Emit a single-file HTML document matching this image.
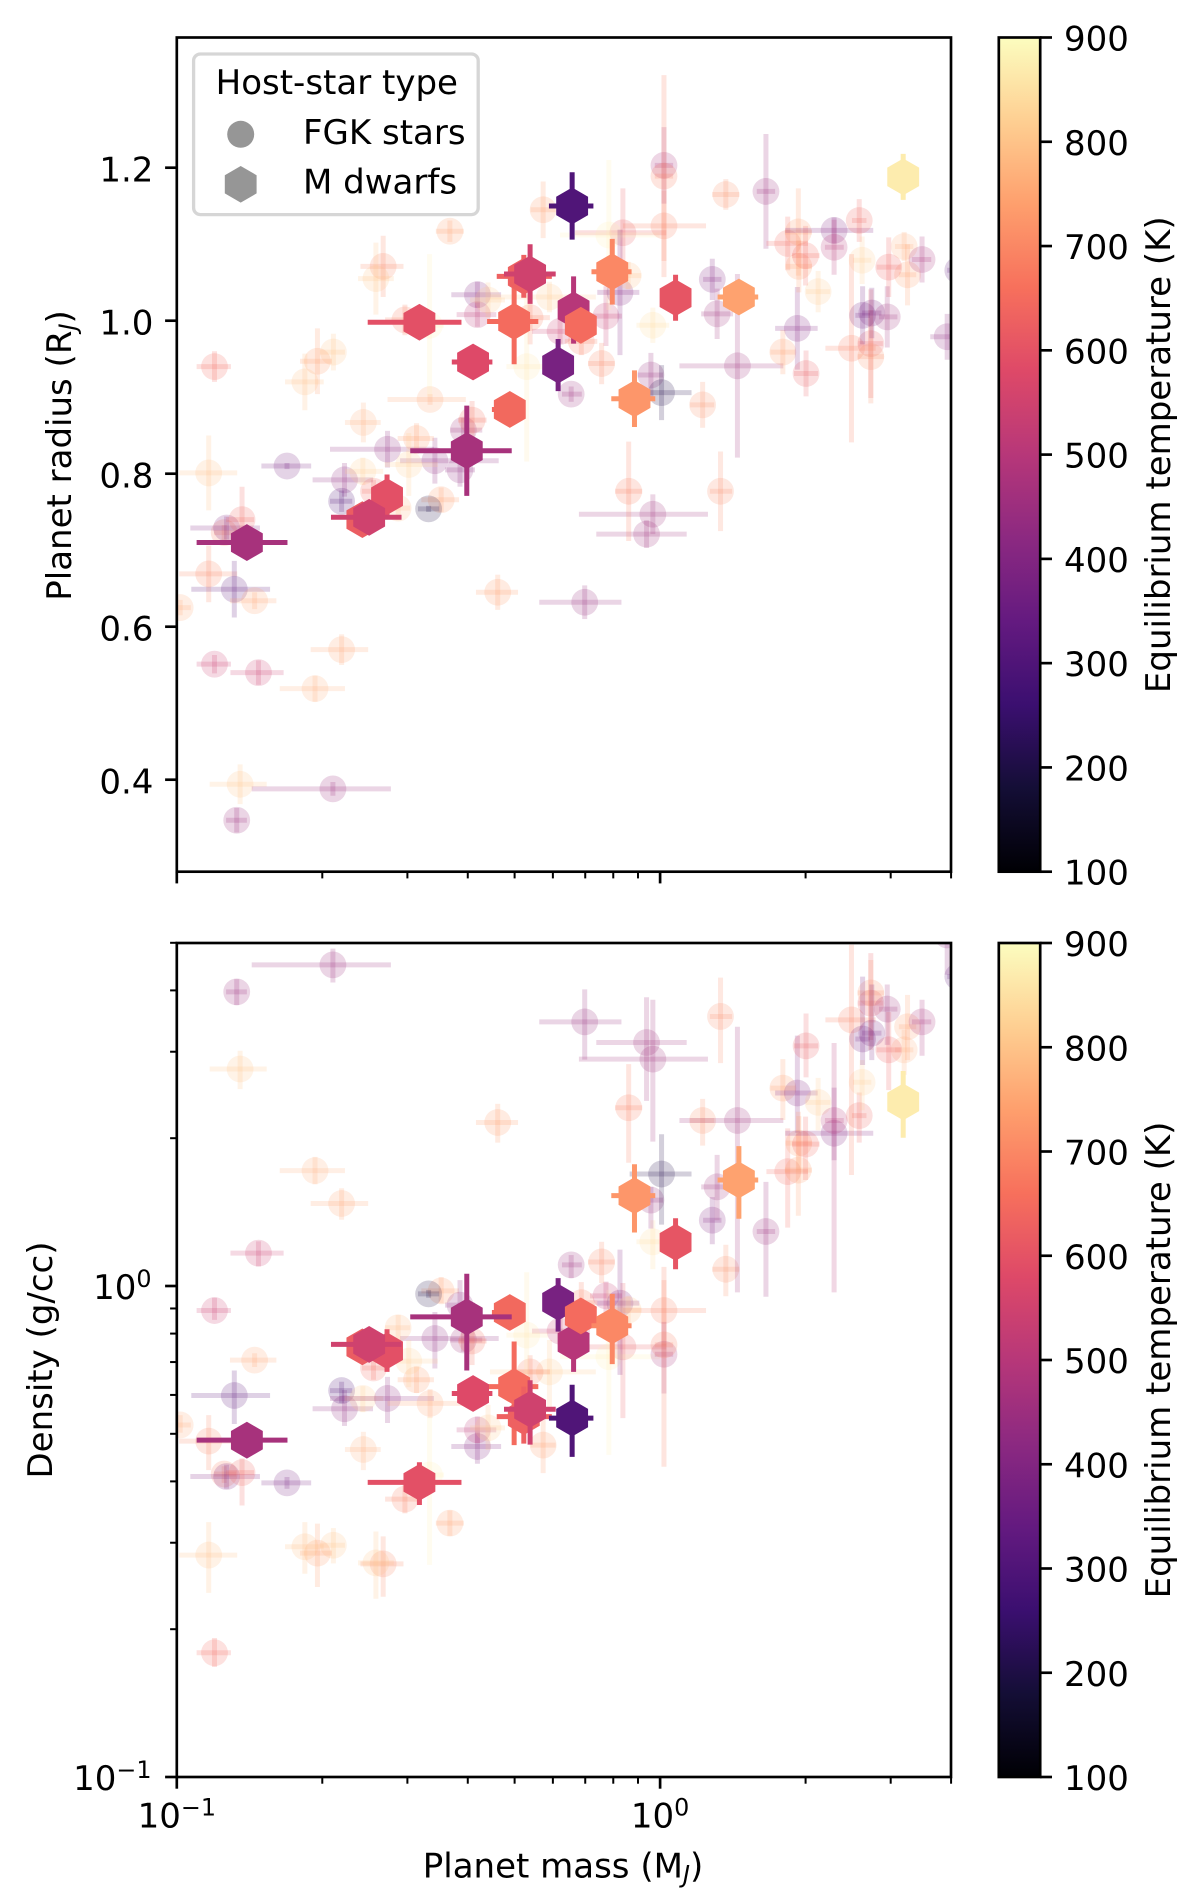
<!DOCTYPE html>
<html lang="en">
<head>
<meta charset="utf-8">
<title>Planet radius and density versus mass</title>
<style>
html,body{margin:0;padding:0;background:#fff;}
svg{display:block;}
text{font-family:"DejaVu Sans","Liberation Sans",sans-serif;font-size:34px;fill:#000;}
</style>
</head>
<body>
<svg id="figure" xmlns="http://www.w3.org/2000/svg" width="1200" height="1898" viewBox="0 0 1200 1898">
  <defs>
    <clipPath id="clip-top"><rect x="176.8" y="37.5" width="774.2" height="834.2"/></clipPath>
    <clipPath id="clip-bottom"><rect x="176.8" y="943" width="774.2" height="834"/></clipPath>
    <linearGradient id="magma-gradient" x1="0" y1="1" x2="0" y2="0"></linearGradient>
  </defs>
  <g id="top-marks" clip-path="url(#clip-top)"></g>
  <g id="bottom-marks" clip-path="url(#clip-bottom)"></g>
  <g id="axes-layer"></g>

  <rect x="176.8" y="37.5" width="774.2" height="834.2" fill="none" stroke="#000" stroke-width="2.67"/>
  <rect x="176.8" y="943" width="774.2" height="834" fill="none" stroke="#000" stroke-width="2.67"/>

  <rect x="998.8" y="37.5" width="41.4" height="834.2" fill="url(#magma-gradient)" stroke="#000" stroke-width="2.67"/>
  <rect x="998.8" y="943" width="41.4" height="834" fill="url(#magma-gradient)" stroke="#000" stroke-width="2.67"/>

  <text transform="translate(71,455.5) rotate(-90)" text-anchor="middle">Planet radius (R<tspan font-size="23.8" font-style="italic" dy="5">J</tspan><tspan dy="-5">)</tspan></text>
  <text transform="translate(52,1360) rotate(-90)" text-anchor="middle">Density (g/cc)</text>
  <text x="563" y="1877.5" text-anchor="middle">Planet mass (M<tspan font-size="23.8" font-style="italic" dy="5">J</tspan><tspan dy="-5">)</tspan></text>
  <text transform="translate(1170,454.7) rotate(-90)" text-anchor="middle">Equilibrium temperature (K)</text>
  <text transform="translate(1170,1360) rotate(-90)" text-anchor="middle">Equilibrium temperature (K)</text>

  <g>
    <rect x="193.6" y="54" width="284.6" height="160.6" rx="6.7" ry="6.7" fill="#fff" fill-opacity="0.8" stroke="#ccc" stroke-opacity="0.8" stroke-width="3.3"/>
    <text x="336.8" y="94" text-anchor="middle">Host-star type</text>
    <circle cx="240.7" cy="134.3" r="13.5" fill="#969696"/>
    <text x="303" y="144">FGK stars</text>
    <polygon points="240.7,166 256.6,175.2 256.6,193.4 240.7,202.6 224.8,193.4 224.8,175.2" fill="#969696"/>
    <text x="303" y="193.3">M dwarfs</text>
  </g>
</svg>
<script>
// ---- chart data (log10 values are dex; errors in the same units) ----
const fgkTemperature = [
760,790,700,650,540,680,400,640,330,750,
540,450,800,450,750,770,730,440,380,430,
300,820,430,730,200,430,430,460,660,730,
770,820,750,400,510,740,700,800,800,730,
790,680,880,810,680,540,680,530,700,860,
450,620,880,690,480,680,720,450,840,400,
440,210,720,460,400,460,730,400,620,810,
650,730,740,650,400,500,640,820,770,740,
630,480,430,330,680,620,720,370,380,460,
460,460,680,710,650,780,810,790,730];
const fgkLogMass = [
-.993,-.934,-.934,-.922,-.922,-.902,-.897,-.865,-.881,-.839,
-.831,-.876,-.869,-.677,-.659,-.714,-.336,-.156,-.772,-.653,
-.659,-.615,-.564,-.453,-.479,-.466,-.414,-.407,-.389,-.504,
-.614,-.520,-.476,-.378,-.378,-.435,-.573,-.588,-.676,-.709,
-.735,-.528,-.477,-.229,-.269,-.207,-.163,-.112,-.121,-.276,
-.184,-.077,-.106,.008,.008,.008,.136,.219,-.015,-.083,
-.019,.003,.088,.160,.108,.118,.254,.284,.302,.327,
.264,.286,.287,.301,.360,.360,.412,.418,.505,.512,
.473,.542,.594,.616,.396,.436,.436,.419,.438,.470,
-.015,-.028,-.065,.125,-.593,-.542,-.356,-.066,-.242];
const fgkMassErrLow = [
.031,.061,.061,.037,.037,.021,.075,.033,.089,.051,
.058,.022,.063,.168,.064,.073,.045,.094,.053,.066,
.024,.037,.119,.041,.022,.072,.031,.027,.029,.039,
.038,.050,.088,.054,.043,.029,.047,.037,.028,.036,
.041,.041,.030,.123,.041,.058,.034,.033,.028,.042,
.019,.099,.101,.085,.019,.019,.028,.019,.034,.047,
.027,.066,.026,.120,.019,.033,.026,.046,.025,.025,
.044,.028,.027,.028,.101,.019,.015,.019,.019,.018,
.025,.021,.035,.022,.054,.026,.027,.015,.020,.017,
.153,.104,.028,.022,.024,.027,.037,.027,.026];
const fgkMassErrHigh = [
.022,.059,.059,.034,.034,.025,.069,.025,.074,.045,
.052,.021,.055,.120,.055,.062,.042,.076,.050,.059,
.022,.042,.096,.037,.022,.132,.031,.039,.030,.036,
.036,.060,.074,.049,.039,.029,.042,.037,.024,.030,
.039,.027,.030,.096,.041,.062,.033,.033,.027,.044,
.022,.090,.105,.087,.019,.019,.028,.019,.034,.040,
.025,.062,.024,.095,.019,.033,.026,.042,.025,.025,
.042,.028,.027,.029,.081,.020,.015,.019,.019,.018,
.025,.019,.035,.022,.050,.025,.027,.015,.020,.021,
.114,.083,.028,.024,.024,.025,.035,.027,.026];
const fgkRadius = [
.625,.801,.669,.940,.551,.723,.729,.740,.649,.634,
.540,.347,.394,.388,.570,.519,.645,.632,.810,.792,
.764,.803,.832,.766,.754,.817,.805,.857,.870,.846,
.867,.812,.897,1.034,1.008,1.117,1.071,1.055,.959,.947,
.920,1.001,.994,1.031,1.004,.986,.973,1.006,.944,.940,
.904,1.115,1.112,1.124,1.203,1.189,1.165,1.169,.994,1.037,
.929,.906,.890,.941,1.054,1.009,.959,.990,.931,1.038,
1.101,1.116,1.071,1.085,1.118,1.096,1.131,1.079,1.097,1.060,
1.070,1.080,.979,1.066,.964,.970,.953,1.007,1.010,1.005,
.747,.721,.777,.777,.777,.755,1.027,1.059,1.145];
const fgkRadiusErr = [
.010,.049,.037,.020,.012,.010,.015,.043,.037,.011,
.016,.016,.026,.009,.020,.017,.023,.022,.004,.022,
.014,.018,.024,.016,.004,.030,.022,.016,.025,.020,
.026,.041,.007,.017,.016,.014,.040,.047,.024,.043,
.037,.020,.093,.020,.035,.016,.018,.039,.027,.124,
.010,.058,.098,.046,.050,.132,.020,.075,.023,.082,
.029,.036,.030,.120,.027,.033,.029,.054,.030,.027,
.035,.057,.034,.039,.017,.036,.028,.031,.019,.040,
.039,.030,.030,.005,.123,.071,.061,.038,.033,.040,
.026,.018,.065,.052,.015,.016,.023,.018,.037];
const fgkLogDensity = [
-.283,-.548,-.316,-.747,-.050,-.383,-.388,-.380,-.223,-.151,
.067,.599,.442,.654,.168,.235,.333,.538,-.401,-.250,
-.213,-.229,-.229,-.010,-.016,-.107,-.039,-.110,-.112,-.191,
-.333,-.153,-.239,-.327,-.293,-.483,-.566,-.564,-.528,-.544,
-.531,-.434,-.385,-.175,-.175,-.092,-.034,-.020,.049,-.100,
.043,-.124,-.144,-.050,-.139,-.120,.034,.111,.090,-.035,
.175,.228,.337,.337,.134,.202,.403,.393,.489,.374,
.233,.236,.291,.289,.311,.337,.347,.415,.481,.528,
.481,.538,.715,.630,.542,.576,.597,.503,.515,.564,
.462,.496,.363,.549,-.167,-.085,-.289,-.049,-.324];
const fgkDensityErrUp = [
.020,.067,.053,.030,.026,.016,.024,.029,.051,.014,
.024,.026,.037,.033,.031,.028,.038,.066,.012,.038,
.018,.025,.044,.028,.008,.054,.051,.020,.027,.027,
.036,.043,.029,.029,.027,.026,.056,.064,.035,.060,
.050,.029,.118,.065,.034,.027,.042,.029,.041,.128,
.020,.130,.136,.062,.066,.159,.050,.101,.044,.109,
.027,.081,.044,.191,.047,.065,.059,.117,.066,.050,
.088,.119,.055,.056,.093,.158,.047,.045,.041,.065,
.077,.045,.040,.008,.153,.102,.067,.127,.099,.050,
.121,.092,.089,.079,.024,.026,.047,.029,.057];
const fgkDensityErrDown = [
.016,.077,.059,.029,.019,.018,.025,.067,.058,.014,
.027,.027,.041,.036,.033,.028,.041,.077,.012,.035,
.025,.028,.050,.025,.008,.061,.047,.024,.049,.027,
.042,.053,.030,.035,.027,.026,.067,.073,.037,.069,
.055,.029,.183,.078,.047,.029,.035,.033,.043,.132,
.027,.145,.200,.071,.080,.248,.055,.133,.056,.146,
.058,.103,.051,.350,.049,.068,.065,.081,.064,.057,
.114,.093,.055,.073,.055,.350,.055,.057,.051,.068,
.082,.069,.081,.008,.316,.075,.116,.053,.055,.073,
.168,.119,.112,.095,.024,.025,.045,.029,.057];

const mDwarfTemperature = [595,620,550,380,500,650,700,605,745,725,870,470,650,630,550,300,595,580,645,470];
const mDwarfLogMass = [-.565,-.616,-.602,-.211,-.179,-.164,-.099,.032,.163,-.053,.503,-.855,-.302,-.282,-.269,-.182,-.498,-.387,-.311,-.400];
const mDwarfMassErrLow = [.020,.010,.079,.012,.010,.010,.043,.010,.044,.048,0,.104,.056,.056,.054,.048,.107,.044,.037,.117];
const mDwarfMassErrHigh = [.020,.010,.067,.012,.010,.010,.040,.010,.040,.043,0,.084,.050,.058,.053,.044,.087,.040,.010,.093];
const mDwarfRadius = [.770,.740,.743,.942,1.014,.994,1.064,1.030,1.031,.898,1.188,.710,.999,1.058,1.061,1.150,.998,.946,.884,.830];
const mDwarfRadiusErr = [.029,.020,.015,.034,.044,.020,.043,.030,.020,.037,.030,.015,.056,.028,.039,.044,.015,.010,.010,.059];
const mDwarfLogDensity = [-.132,-.124,-.119,-.033,-.115,-.061,-.081,.089,.216,.184,.375,-.314,-.205,-.266,-.251,-.269,-.400,-.219,-.054,-.063];
const mDwarfDensityErrUp = [.044,.030,.020,.049,.060,.030,.065,.049,.069,.064,.063,.030,.092,.061,.059,.068,.041,.020,.010,.088];
const mDwarfDensityErrDown = [.043,.030,.020,.060,.060,.030,.078,.055,.079,.075,.073,.030,.119,.055,.072,.079,.046,.020,.010,.109];

// tick values and labels
const radiusTicks = [0.4,0.6,0.8,1.0,1.2];
const radiusTickLabels = ["0.4","0.6","0.8","1.0","1.2"];
const colorbarTicks = [100,200,300,400,500,600,700,800,900];
const minorMultipliers = [2,3,4,5,6,7,8,9];
const magmaStops = ["#000004","#140e36","#3b0f70","#641a80","#8c2981","#b73779","#de4968","#f7705c","#fe9f6d","#fecf92","#fcfdbf"];

// ---- scales ----
const SVG_NS = "http://www.w3.org/2000/svg";
function xScale(logMass){ return 176.8 + (logMass + 1) * 483.3; }
function radiusScale(radius){ return 320.7 - (radius - 1) * 765; }
function densityScale(logDensity){ return 1286 - logDensity * 491; }
function tempScaleTop(t){ return 871.7 - (t - 100) / 800 * 834.2; }
function tempScaleBottom(t){ return 1777 - (t - 100) / 800 * 834; }

function hexToRgb(h){ return [parseInt(h.slice(1,3),16),parseInt(h.slice(3,5),16),parseInt(h.slice(5,7),16)]; }
function magma(t){
  const v = Math.max(0, Math.min(1, (t - 100) / 800)) * (magmaStops.length - 1);
  const i = Math.min(Math.floor(v), magmaStops.length - 2);
  const f = v - i, a = hexToRgb(magmaStops[i]), b = hexToRgb(magmaStops[i + 1]);
  return "rgb(" + a.map(function(c, k){ return Math.round(c + (b[k] - c) * f); }).join(",") + ")";
}
function make(tag, attrs, parent){
  const el = document.createElementNS(SVG_NS, tag);
  for (const k in attrs) el.setAttribute(k, attrs[k]);
  parent.appendChild(el);
  return el;
}
function hexPoints(cx, cy, R){
  const pts = [];
  for (let k = 0; k < 6; k++){
    const ang = Math.PI / 3 * k - Math.PI / 2;
    pts.push((cx + R * Math.cos(ang)).toFixed(2) + "," + (cy + R * Math.sin(ang)).toFixed(2));
  }
  return pts.join(" ");
}

// ---- marks ----
function drawPoint(parent, isHex, t, x, xLow, xHigh, y, yHigh, yLow){
  const color = magma(t);
  const opacity = isHex ? 1 : 0.2;
  const h = make("line", {x1:xLow, x2:xHigh, y1:y, y2:y, stroke:color, "stroke-width":5, "stroke-opacity":opacity}, parent);
  
  
  const v = make("line", {x1:x, x2:x, y1:yHigh, y2:yLow, stroke:color, "stroke-width":5, "stroke-opacity":opacity}, parent);
  
  
  let m;
  if (isHex){
    m = make("polygon", {points:hexPoints(x, y, 18.4), fill:color}, parent);
    
  } else {
    m = make("circle", {cx:x, cy:y, r:13.4, fill:color, "fill-opacity":0.2}, parent);
    
  }
  
}
function drawSeries(isHex, temps, logMass, errLow, errHigh, radius, radErr, logDensity, dUp, dDown){
  const topG = document.getElementById("top-marks");
  const botG = document.getElementById("bottom-marks");
  for (let i = 0; i < logMass.length; i++){
    const x = xScale(logMass[i]);
    const xl = xScale(logMass[i] - errLow[i]);
    const xh = xScale(logMass[i] + errHigh[i]);
    drawPoint(topG, isHex, temps[i], x, xl, xh, radiusScale(radius[i]), radiusScale(radius[i] + radErr[i]), radiusScale(radius[i] - radErr[i]));
    drawPoint(botG, isHex, temps[i], x, xl, xh, densityScale(logDensity[i]), densityScale(logDensity[i] + dUp[i]), densityScale(logDensity[i] - dDown[i]));
  }
}
drawSeries(false, fgkTemperature, fgkLogMass, fgkMassErrLow, fgkMassErrHigh, fgkRadius, fgkRadiusErr, fgkLogDensity, fgkDensityErrUp, fgkDensityErrDown);
drawSeries(true, mDwarfTemperature, mDwarfLogMass, mDwarfMassErrLow, mDwarfMassErrHigh, mDwarfRadius, mDwarfRadiusErr, mDwarfLogDensity, mDwarfDensityErrUp, mDwarfDensityErrDown);

// ---- colorbar gradient ----
const grad = document.getElementById("magma-gradient");
magmaStops.forEach(function(c, i){
  make("stop", {offset:(i / (magmaStops.length - 1)), "stop-color":c}, grad);
});

// ---- axes ----
const axesLayer = document.getElementById("axes-layer");
function tick(x1, y1, x2, y2, w){
  const l = make("line", {x1:x1, y1:y1, x2:x2, y2:y2, stroke:"#000", "stroke-width":w}, axesLayer);
  
  
}
function label(x, y, anchor, str){
  const t = make("text", {x:x, y:y, "text-anchor":anchor}, axesLayer);
  t.textContent = str;
  
  
}
function powerLabel(x, y, anchor, exp){
  const t = make("text", {x:x, y:y, "text-anchor":anchor}, axesLayer);
  
  
  const base = make("tspan", {}, t);
  base.textContent = "10";
  const sup = make("tspan", {"font-size":23.8, dy:-12}, t);
  sup.textContent = exp;
}
// log x ticks on both panels
[[871.7],[1777]].forEach(function(p, idx){
  const base = p[0];
  [-1, 0].forEach(function(d){
    tick(xScale(d), base, xScale(d), base + 11.7, 2.67);
    minorMultipliers.forEach(function(m){
      const lv = d + Math.log10(m);
      if (lv <= 0.6021) tick(xScale(lv), base, xScale(lv), base + 6.7, 2);
    });
  });
  if (idx === 1){
    powerLabel(xScale(-1), 1827.7, "middle", "\u22121");
    powerLabel(xScale(0), 1827.7, "middle", "0");
  }
});
// radius y ticks
radiusTicks.forEach(function(r, i){
  const y = radiusScale(r);
  tick(176.8, y, 165.1, y, 2.67);
  label(153.4, y + 13.6, "end", radiusTickLabels[i]);
});
// density y ticks
[-1, 0].forEach(function(d){
  const y = densityScale(d);
  tick(176.8, y, 165.1, y, 2.67);
  powerLabel(151.5, y + 13, "end", d === 0 ? "0" : "\u22121");
  minorMultipliers.forEach(function(m){
    const lv = d + Math.log10(m);
    if (lv <= 0.6991) tick(176.8, densityScale(lv), 170.1, densityScale(lv), 2);
  });
});
// colorbar ticks
colorbarTicks.forEach(function(t){
  const y1 = tempScaleTop(t), y2 = tempScaleBottom(t);
  tick(1040.2, y1, 1052, y1, 2.67);
  label(1064, y1 + 13, "start", String(t));
  tick(1040.2, y2, 1052, y2, 2.67);
  label(1064, y2 + 13, "start", String(t));
});
</script>
</body>
</html>
